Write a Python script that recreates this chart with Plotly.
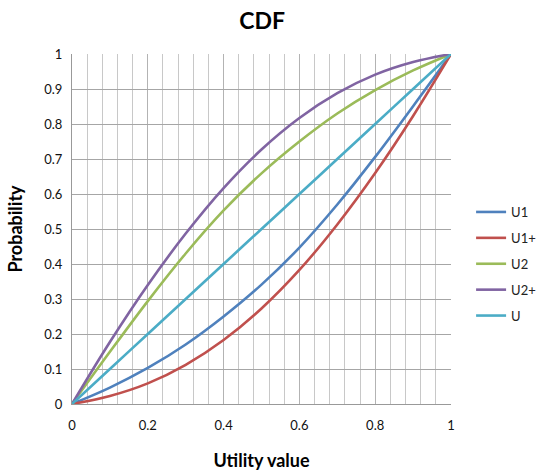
import plotly.graph_objects as go

# Utility grid shared by every curve
utility = [0.0, 0.1, 0.2, 0.3, 0.4, 0.5, 0.6, 0.7, 0.8, 0.9, 1.0]

# Cumulative probabilities for each utility distribution
cdf_u1 = [0, 0.047, 0.103, 0.170, 0.250, 0.341, 0.447, 0.570, 0.706, 0.851, 1.0]
cdf_u1_plus = [0, 0.023, 0.059, 0.112, 0.183, 0.273, 0.383, 0.513, 0.660, 0.823, 1.0]
cdf_u2 = [0, 0.149, 0.294, 0.430, 0.553, 0.659, 0.750, 0.830, 0.897, 0.953, 1.0]
cdf_u2_plus = [0, 0.177, 0.340, 0.487, 0.617, 0.727, 0.817, 0.888, 0.941, 0.977, 1.0]
cdf_u = [0, 0.1, 0.2, 0.3, 0.4, 0.5, 0.6, 0.7, 0.8, 0.9, 1.0]

series = [
    ("U1", cdf_u1, "#4F81BD"),
    ("U1+", cdf_u1_plus, "#C0504D"),
    ("U2", cdf_u2, "#9BBB59"),
    ("U2+", cdf_u2_plus, "#8064A2"),
    ("U", cdf_u, "#4BACC6"),
]

FONT = "Lato, 'Open Sans', sans-serif"

fig = go.Figure()
for name, ys, color in series:
    fig.add_trace(go.Scatter(
        x=utility, y=ys, name=name, legendgroup=name,
        mode="lines", line=dict(color=color, width=2.6, shape="spline", smoothing=1.0),
    ))

fig.update_layout(
    width=537, height=473,
    margin=dict(l=72, r=86, t=54, b=69, autoexpand=False),
    paper_bgcolor="white", plot_bgcolor="white",
    font=dict(family=FONT, size=13, color="#111"),
    title=dict(text="<b>CDF</b>", x=0.488, xanchor="center", y=0.955, yanchor="middle",
               font=dict(family=FONT, size=23, color="black")),
    showlegend=True,
    legend=dict(x=1.053, xanchor="left", y=0.40, yanchor="middle",
                font=dict(family=FONT, size=13, color="#222"),
                tracegroupgap=6, itemwidth=30, bgcolor="rgba(0,0,0,0)"),
)

fig.update_xaxes(
    range=[0, 1], dtick=0.2, tick0=0, showgrid=True, gridcolor="#b3b3b3", gridwidth=1,
    minor=dict(dtick=0.04, showgrid=True, gridcolor="#c8c8c8", gridwidth=1),
    showline=True, linecolor="#999", linewidth=1, zeroline=False, ticks="",
    ticklabelstandoff=9, tickfont=dict(size=13),
    title=dict(text="<b>Utility value</b>", font=dict(family=FONT, size=18, color="black"), standoff=22),
)
fig.update_yaxes(
    range=[0, 1], dtick=0.1, tick0=0, showgrid=True, gridcolor="#a6a6a6", gridwidth=1,
    showline=True, linecolor="#999", linewidth=1, zeroline=False, ticks="",
    ticklabelstandoff=6, tickfont=dict(size=13),
    title=dict(text="<b>Probability</b>", font=dict(family=FONT, size=18, color="black"), standoff=16),
)

fig.write_html("out.html")
